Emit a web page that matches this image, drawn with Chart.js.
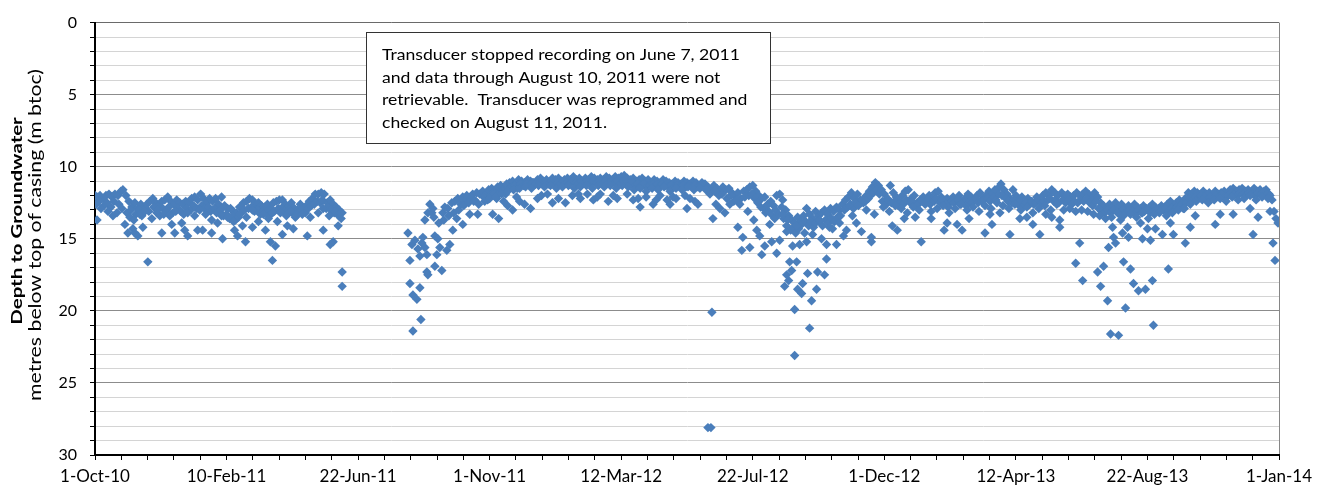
<!DOCTYPE html>
<html>
<head>
<meta charset="utf-8">
<script src="https://cdn.jsdelivr.net/npm/chart.js@4.4.0/dist/chart.umd.min.js"></script>
<style>
html,body{margin:0;padding:0;background:#fff}
#wrap{width:1328px;height:493px}
</style>
</head>
<body>
<div id="wrap"><canvas id="c"></canvas></div>
<script>
// x = days since 1-Oct-10, y = depth (m btoc)
const xTickLabels=['1-Oct-10','10-Feb-11','22-Jun-11','1-Nov-11','12-Mar-12','22-Jul-12','1-Dec-12','12-Apr-13','22-Aug-13','1-Jan-14'];
const yTitleBold='Depth to Groundwater';
const yTitleSub='metres below top of casing (m btoc)';
const noteLines=[
  'Transducer stopped recording on June 7, 2011',
  'and data through August 10, 2011 were not',
  'retrievable.  Transducer was reprogrammed and',
  'checked on August 11, 2011.'
];

// Oct 2010 - Jun 2011
const readingsA=[
[0,12.0],[2,12.1],[5,12.0],[8,12.2],[11,12.0],[14,11.9],[17,12.1],[20,11.9],[23,12.0],[26,11.7],[28,11.6],[31,12.0],[34,12.4],[37,12.8],[40,12.5],[43,12.9],[46,12.6],[49,12.8],[52,12.6],[55,12.4],[58,12.2],[61,12.5],[64,12.7],[67,12.4],[70,12.3],[73,12.1],[76,12.4],[79,12.6],[82,12.3],[85,12.5],[88,12.6],[91,12.4],[94,12.5],[97,12.2],[100,12.1],[103,12.3],[106,11.9],[109,12.2],[112,12.5],[115,12.2],[118,12.4],[121,12.2],[124,12.6],[127,12.1],[130,12.7],[133,12.9],[136,12.9],[139,13.1],[142,13.2],[145,12.8],[149,12.5],[152,12.4],[155,12.2],[158,12.3],[161,12.6],[164,12.5],[167,12.7],[170,12.8],[173,12.6],[176,12.9],[179,12.5],[182,12.4],[185,12.3],[188,12.3],[191,12.6],[194,12.8],[197,12.5],[200,12.9],[203,13.0],[206,12.6],[209,12.9],[212,12.7],[215,12.4],[218,12.2],[221,11.9],[224,11.9],[227,11.8],[230,11.9],[233,12.5],[236,12.3],[239,12.6],[242,12.8],[245,13.0],[248,13.2],
[1,12.6],[4,12.4],[9,12.7],[12,12.5],[16,12.8],[19,12.4],[24,12.6],[27,12.9],[32,13.2],[36,13.0],[41,13.3],[44,13.0],[47,13.4],[51,12.9],[54,13.1],[59,12.8],[62,13.2],[65,13.4],[68,12.9],[72,13.0],[74,12.8],[78,13.2],[83,12.9],[86,13.1],[89,13.3],[92,12.9],[96,13.0],[99,12.7],[102,12.9],[107,12.7],[110,12.9],[114,12.8],[116,13.1],[120,12.9],[122,13.2],[126,13.0],[129,13.4],[132,13.3],[135,13.6],[138,13.4],[141,13.7],[144,13.5],[147,13.2],[150,13.0],[154,12.9],[157,12.8],[160,13.1],[163,13.0],[166,13.3],[168,13.1],[172,13.2],[175,13.4],[177,13.0],[180,13.1],[184,12.9],[187,12.9],[190,13.1],[195,13.0],[198,13.2],[201,13.5],[205,13.1],[207,13.0],[211,13.2],[214,12.9],[217,12.7],[220,12.6],[223,12.4],[226,12.5],[228,12.3],[232,12.9],[234,12.8],[237,13.0],[240,13.2],[243,13.3],[247,13.6],
[2,13.7],[6,12.9],[13,13.1],[18,13.4],[22,13.2],[30,14.0],[35,13.5],[39,13.7],[45,13.3],[50,13.1],[57,13.6],[63,13.0],[69,13.3],[75,13.4],[81,13.1],[87,13.9],[93,13.2],[100,13.4],[105,13.0],[111,13.3],[117,13.7],[123,13.9],[127,13.4],[133,13.5],[139,13.8],[145,13.3],[152,13.5],[158,13.0],[164,13.8],[169,13.3],[174,13.6],[178,13.2],[183,13.8],[186,13.2],[192,13.4],[196,13.1],[202,13.4],[208,13.3],[216,13.5],[224,13.2],[229,12.9],[235,13.4],[241,13.1],[246,13.2],
[33,14.6],[38,14.3],[40,14.6],[43,14.8],[48,14.2],[53,16.6],[67,14.6],[77,14.0],[80,14.6],[90,14.4],[93,14.8],[103,14.4],[108,14.4],[117,14.6],[128,15.0],[140,14.4],[143,14.8],[148,14.1],[151,15.2],[158,14.2],[171,14.4],[176,15.2],[178,16.5],[181,15.5],[188,14.7],[193,14.1],[199,14.3],[213,14.8],[229,14.4],[236,15.4],[239,15.2],[244,14.1],[248,17.3],[248,18.3]
];

// Aug 2011 - Jun 2012
const readingsB=[
[314,14.6],[316,16.5],[318,15.4],[316,18.1],[319,18.9],[319,21.4],[323,19.2],[321,15.1],[324,15.7],[326,18.4],[327,20.6],[326,16.2],[328,15.3],[329,14.9],[331,15.6],[331,13.7],[333,16.1],[333,17.3],[334,17.5],[334,13.2],[336,12.6],[338,13.2],[339,12.9],[341,14.8],[341,16.9],[343,16.1],[344,15.0],[346,15.6],[348,17.2],[349,13.2],[351,12.8],[353,15.8],[354,12.9],[356,15.4],[358,12.5],[359,14.4],[361,12.4],[363,13.6],[364,12.2],[367,12.6],[369,14.0],[369,12.1],[371,12.4],[373,12.0],[376,13.3],[377,12.2],[379,11.9],[381,12.3],[383,11.8],[384,13.3],[386,11.9],
[340,13.5],[345,13.9],[350,13.7],[355,13.4],[360,13.2],[365,13.0],[370,12.7],[375,12.5],[380,12.4],[385,12.6],
[389,11.7],[392,11.9],[395,11.6],[398,11.5],[401,11.7],[404,11.4],[407,11.3],[410,11.5],[413,11.2],[416,11.1],[419,11.0],[422,11.2],[425,10.9],[428,11.0],[431,11.1],[434,10.9],[437,11.0],[440,11.1],[444,10.9],[447,10.8],[450,11.0],[453,10.9],[456,11.1],[459,10.8],[462,10.9],[465,10.8],[468,11.0],[471,10.9],[474,10.8],[477,10.9],[480,10.7],[483,10.9],[486,10.8],[489,11.0],[492,10.8],[495,10.9],[498,10.7],[501,10.8],[504,10.9],[507,10.8],[510,10.9],[513,10.7],[516,10.8],[519,10.9],[522,10.7],[525,10.8],[528,10.7],[531,10.6],[534,10.8],[537,10.9],[540,10.8],[543,11.0],[546,10.9],[549,10.8],[552,11.0],[555,10.9],[558,11.1],[561,10.9],[564,11.0],[567,11.1],[570,10.9],[573,11.0],[576,11.1],[579,11.2],[582,11.0],[585,11.1],[588,11.2],[591,11.0],[594,11.1],[597,11.2],[600,11.0],[603,11.1],[606,11.3],[609,11.1],
[390,12.1],[394,12.3],[397,12.0],[400,11.9],[403,12.2],[406,11.8],[409,11.7],[412,11.9],[415,11.5],[418,11.4],[421,11.3],[424,11.5],[427,11.2],[430,11.3],[433,11.2],[436,11.3],[439,11.1],[442,11.2],[446,11.1],[449,11.2],[452,11.1],[455,11.2],[458,11.0],[461,11.2],[464,11.1],[467,11.2],[470,11.0],[473,11.1],[476,11.2],[479,11.0],[482,11.1],[485,11.2],[488,11.0],[491,11.1],[494,11.0],[497,11.2],[500,11.0],[503,11.1],[506,11.0],[509,11.2],[512,11.0],[515,11.1],[518,11.0],[521,11.1],[524,11.0],[527,11.2],[530,11.0],[533,11.1],[536,11.2],[539,11.1],[542,11.3],[545,11.2],[548,11.3],[551,11.2],[554,11.4],[557,11.3],[560,11.2],[563,11.3],[566,11.4],[569,11.2],[572,11.3],[575,11.4],[578,11.3],[581,11.4],[584,11.3],[587,11.4],[590,11.3],[593,11.4],[596,11.3],[599,11.4],[602,11.3],[605,11.4],[608,11.3],
[391,12.4],[396,12.2],[402,12.1],[408,11.9],[414,11.7],[420,11.6],[426,11.5],[432,11.4],[438,11.5],[445,11.3],[451,11.4],[457,11.3],[463,11.5],[469,11.4],[475,11.3],[481,11.5],[487,11.4],[493,11.3],[499,11.5],[505,11.3],[511,11.4],[517,11.3],[523,11.5],[529,11.3],[535,11.4],[541,11.6],[547,11.5],[553,11.7],[559,11.5],[565,11.6],[571,11.4],[577,11.7],[583,11.5],[589,11.6],[595,11.4],[601,11.6],[607,11.5],
[399,13.3],[405,13.6],[414,12.7],[419,13.0],[426,12.4],[437,12.9],[444,12.2],[454,11.9],[459,12.5],[472,12.5],[479,12.0],[487,12.2],[494,11.9],[500,12.3],[507,11.9],[515,12.4],[524,12.2],[534,11.9],[540,12.3],[547,12.8],[553,12.1],[560,12.6],[567,12.0],[574,12.3],[577,12.6],[583,12.2],[594,12.9],[592,12.0],[602,12.4],
[410,12.4],[423,12.1],[431,12.6],[448,12.0],[465,12.2],[485,11.9],[504,12.1],[520,12.0],[545,12.2],[563,12.3],[580,12.1],[597,12.2],[605,12.6]
];

// Jun 2012 - Feb 2013
const readingsC=[
[612,11.2],[615,28.1],[618,28.1],[619,20.1],
[615,11.4],[618,11.6],[621,11.3],[624,11.5],[627,11.7],[630,11.4],[633,11.6],[636,11.5],[639,11.8],[642,12.0],[645,11.8],[648,12.2],[651,11.7],[654,11.6],[657,11.4],[660,11.3],[663,11.7],[666,12.0],[669,12.2],[672,12.1],[675,12.6],[678,12.4],[681,12.7],[684,12.0],[687,11.9],[690,12.3],[693,13.0],[696,13.4],[699,13.7],[702,13.9],[705,13.5],[708,13.8],[711,13.4],[714,12.9],[717,13.3],[720,13.6],[723,13.1],[726,13.4],[729,13.2],[732,13.0],[735,13.3],[738,12.9],[741,13.1],[744,12.8],[747,13.0],[750,12.6],[753,12.3],[756,12.1],[759,11.8],[762,12.2],[765,11.9],[768,12.3],[771,12.5],[774,12.0],[777,11.7],[780,11.4],[783,11.1],[786,11.3],
[613,11.6],[617,11.9],[622,11.7],[626,12.0],[629,11.9],[634,12.2],[638,12.0],[641,12.4],[644,12.3],[647,12.6],[652,12.1],[656,12.0],[659,11.9],[662,12.2],[665,12.5],[668,12.8],[671,12.9],[673,13.2],[676,13.1],[680,13.4],[683,13.0],[686,13.3],[689,12.8],[691,13.6],[694,14.1],[698,14.4],[701,14.2],[703,14.6],[706,14.3],[709,14.0],[713,13.8],[716,14.1],[718,13.8],[721,14.2],[723,13.9],[727,13.8],[730,14.1],[733,13.7],[736,13.9],[739,13.6],[742,13.8],[745,13.5],[748,13.4],[752,13.0],[755,12.8],[758,12.6],[761,12.9],[763,12.5],[766,12.7],[770,12.3],[773,12.4],[776,12.2],[778,12.0],[781,11.8],[784,11.6],[787,11.9],
[620,13.6],[623,12.6],[627,12.9],[632,13.2],[637,12.6],[645,14.2],[649,15.8],[650,14.9],[655,13.1],[657,15.6],[661,13.7],[664,14.4],[667,14.8],[669,16.1],[672,15.5],[674,12.7],[677,14.0],[679,15.2],[682,13.6],[684,16.0],[687,15.1],[690,13.3],[692,18.3],[694,14.5],[694,17.5],[695,13.7],[696,17.9],[697,16.6],[699,17.2],[700,15.5],[702,23.1],[702,19.9],[704,16.6],[704,14.1],[705,18.5],[707,15.4],[709,18.8],[710,18.1],[712,14.6],[714,15.2],[715,17.4],[717,21.2],[719,19.3],[720,14.7],[724,18.5],[725,17.3],[727,13.7],[729,15.0],[732,17.5],[734,16.4],[734,15.4],[737,14.2],[740,14.3],[744,15.4],[747,13.9],[751,14.8],[754,14.4],[757,12.7],[760,13.4],[764,13.9],[769,14.5],[774,13.0],[779,14.9],[782,13.3],
[789,11.6],[792,11.9],[795,12.2],[798,11.3],[801,11.8],[804,12.1],[807,12.4],[810,12.0],[813,11.7],[816,11.6],[819,12.2],[822,12.0],[825,12.5],[828,12.3],[831,12.1],[834,12.4],[837,12.0],[840,12.2],[843,11.8],[846,11.7],[849,12.1],[852,12.4],[855,12.2],[858,12.5],[861,12.1],[864,12.3],[867,12.0],[870,12.4],[873,12.2],[876,11.9],[879,12.1],[882,12.3],[885,12.0],[888,11.8],[891,12.2],[894,12.0],[897,11.7],[900,11.9],[903,11.6],[906,11.5],[909,11.2],[912,11.6],[915,11.9],[918,12.2],[921,11.6],[924,12.0],[927,12.3],[930,12.1],[933,12.5],[936,12.2],[939,12.4],[942,12.6],[945,12.1],[948,12.4],[951,12.0],[954,11.8],[957,12.0],[960,11.6],[963,11.8],[966,12.0],
[790,12.4],[794,12.6],[796,12.3],[799,12.5],[802,12.4],[806,12.7],[808,12.5],[811,12.6],[814,12.3],[818,12.5],[820,12.4],[824,12.7],[826,12.6],[830,12.4],[832,12.5],[836,12.3],[838,12.6],[842,12.4],[844,12.2],[848,12.5],[850,12.3],[854,12.6],[856,12.8],[860,12.4],[862,12.5],[866,12.3],[868,12.6],[872,12.5],[874,12.7],[878,12.4],[880,12.5],[884,12.2],[886,12.5],[890,12.4],[892,12.3],[896,12.2],[898,12.4],[902,12.1],[904,12.3],[907,11.9],[910,12.0],[914,12.2],[916,12.4],[920,12.5],[922,12.3],[926,12.6],[928,12.4],[932,12.7],[934,12.5],[938,12.6],[940,12.4],[944,12.5],[946,12.3],[950,12.5],[952,12.4],[956,12.3],[958,12.2],[962,12.4],[964,12.3],[967,12.5],
[791,12.8],[797,13.1],[803,12.7],[809,12.9],[815,13.2],[821,12.8],[827,13.0],[833,12.6],[839,13.1],[845,12.9],[851,12.7],[857,13.2],[863,12.9],[869,12.6],[875,13.0],[881,12.8],[887,13.1],[893,12.7],[899,12.9],[905,12.5],[911,12.7],[917,12.9],[923,12.6],[929,13.0],[935,12.8],[941,13.2],[947,12.9],[953,12.7],[959,13.0],[965,12.6],
[779,15.2],[800,14.1],[805,14.4],[812,13.6],[823,13.5],[829,15.2],[839,13.6],[852,14.4],[855,13.9],[865,14.0],[870,14.4],[877,13.6],[893,14.6],[898,13.3],[900,14.0],[908,13.2],[918,14.7],[928,13.6],[935,13.5],[941,14.0],[948,14.7],[954,13.3],[960,13.5],[968,13.7]
];

// Feb 2013 - Jan 2014
const readingsD=[
[970,11.8],[973,12.0],[976,11.9],[979,12.1],[982,12.0],[985,11.8],[988,12.0],[991,11.9],[994,11.7],[997,11.9],[1000,12.2],[1003,11.8],[1006,12.1],[1009,12.5],[1012,12.7],[1015,12.9],[1018,12.6],[1021,12.8],[1024,12.5],[1027,12.8],[1030,12.6],[1033,12.9],[1037,12.7],[1040,12.9],[1043,12.6],[1046,12.8],[1049,12.9],[1052,12.7],[1055,12.9],[1058,12.8],[1061,12.6],[1064,12.8],[1067,12.9],[1070,12.7],[1073,12.8],[1076,12.6],[1079,12.4],[1082,12.7],[1085,12.5],[1088,12.3],[1091,12.5],[1094,12.2],[1097,11.8],[1100,11.9],[1103,11.7],[1106,11.8],[1109,11.9],[1112,11.7],[1115,11.9],[1118,11.8],[1121,12.0],[1124,11.7],[1127,11.9],[1130,11.8],[1133,11.7],[1136,11.9],[1139,11.6],[1142,11.5],[1145,11.7],[1148,11.6],[1151,11.5],[1154,11.7],[1157,11.6],[1160,11.8],[1163,11.5],[1166,11.7],[1169,11.6],[1172,11.8],[1175,11.6],[1178,11.9],[1181,12.3],[1183,13.1],[1185,13.6],[1187,13.9],
[971,12.3],[974,12.5],[977,12.3],[980,12.6],[983,12.4],[986,12.5],[989,12.3],[992,12.4],[995,12.2],[998,12.5],[1001,12.7],[1004,12.4],[1007,12.9],[1010,13.1],[1013,13.2],[1016,13.0],[1019,13.2],[1022,13.0],[1025,13.1],[1028,13.3],[1031,13.0],[1034,13.2],[1038,13.0],[1041,13.1],[1044,13.3],[1047,13.0],[1050,13.2],[1053,13.1],[1056,13.0],[1059,13.2],[1062,13.1],[1065,13.0],[1068,13.2],[1072,13.0],[1074,12.9],[1077,13.1],[1080,12.9],[1083,13.0],[1086,12.8],[1089,12.7],[1092,12.9],[1095,12.5],[1098,12.2],[1101,12.3],[1104,12.1],[1107,12.2],[1110,12.0],[1113,12.1],[1116,12.3],[1119,12.1],[1122,12.2],[1125,12.0],[1128,12.1],[1131,11.9],[1134,12.1],[1137,12.0],[1140,11.8],[1143,11.9],[1146,12.0],[1149,11.8],[1152,11.9],[1155,12.0],[1158,11.8],[1161,11.9],[1164,12.0],[1167,11.8],[1170,11.9],[1173,11.7],[1176,11.9],[1179,12.0],
[972,13.0],[978,12.9],[984,13.1],[990,13.0],[996,13.1],[1002,13.3],[1008,13.4],[1014,13.6],[1020,13.5],[1026,13.2],[1032,13.4],[1039,13.3],[1045,13.5],[1051,13.2],[1057,13.6],[1063,13.3],[1069,13.1],[1075,13.4],[1081,13.2],[1087,13.0],[1093,12.9],[1099,12.6],[1105,12.4],[1111,12.3],[1117,12.5],[1123,12.3],[1129,12.2],[1135,12.4],[1141,12.1],[1147,12.3],[1153,12.2],[1159,12.0],[1165,12.3],[1171,12.1],[1177,12.2],
[968,14.2],[984,16.7],[988,15.3],[991,17.9],[1006,17.3],[1009,18.3],[1012,16.9],[1016,19.3],[1017,15.6],[1019,21.6],[1021,14.2],[1022,14.9],[1024,15.3],[1027,21.7],[1029,13.7],[1031,14.6],[1032,16.6],[1034,19.8],[1036,14.2],[1037,14.9],[1039,17.1],[1042,18.1],[1047,18.6],[1049,13.9],[1051,15.0],[1054,18.5],[1056,14.3],[1059,15.1],[1061,17.9],[1062,21.0],[1064,14.3],[1071,14.7],[1077,17.1],[1079,13.9],[1082,14.7],[1094,15.3],[1099,14.2],[1104,13.4],[1124,14.0],[1129,13.3],[1142,13.3],[1159,12.9],[1162,14.7],[1167,13.5],[1179,13.1],[1182,15.3],[1184,16.5]
];

const FONT='Lato';

const points=[...readingsA,...readingsB,...readingsC,...readingsD].map(p=>({x:p[0],y:p[1]}));

const yTitles={
  id:'yTitles',
  afterDraw(chart){
    const ctx=chart.ctx;
    ctx.save();
    ctx.textAlign='center';
    ctx.textBaseline='middle';
    ctx.fillStyle='#000';
    ctx.save();
    ctx.translate(17,221);
    ctx.rotate(-Math.PI/2);
    ctx.scale(1.28,1);
    ctx.font='bold 16px '+FONT;
    ctx.fillText(yTitleBold,0,0);
    ctx.restore();
    ctx.save();
    ctx.translate(36,235);
    ctx.rotate(-Math.PI/2);
    ctx.scale(1.25,1);
    ctx.font='17px '+FONT;
    ctx.fillText(yTitleSub,0,0);
    ctx.restore();
    ctx.restore();
  }
};

const noteBox={
  id:'noteBox',
  afterDatasetsDraw(chart){
    const ctx=chart.ctx;
    ctx.save();
    ctx.fillStyle='#fff';
    ctx.fillRect(366,32,404,111);
    ctx.strokeStyle='#333';
    ctx.lineWidth=1;
    ctx.strokeRect(366.5,32.5,404,111);
    ctx.fillStyle='#000';
    ctx.font='16px '+FONT;
    ctx.textBaseline='middle';
    noteLines.forEach((t,i)=>{
      ctx.save();
      ctx.translate(382,55+i*22.5);
      ctx.scale(1.1,1);
      ctx.fillText(t,0,0);
      ctx.restore();
    });
    ctx.restore();
  }
};

new Chart(document.getElementById('c'),{
  type:'scatter',
  data:{datasets:[{
    data:points,
    pointStyle:'rectRot',
    pointRadius:4.7,
    borderWidth:0,
    backgroundColor:'#4A7EBB',
    borderColor:'#4A7EBB'
  }]},
  options:{
    responsive:true,
    maintainAspectRatio:false,
    animation:false,
    layout:{padding:{left:0,right:49,top:12,bottom:0}},
    plugins:{legend:{display:false},tooltip:{enabled:false}},
    scales:{
      x:{
        type:'linear',min:0,max:1188,
        afterFit:s=>{s.height=38;},
        border:{color:'#000',width:2},
        grid:{
          drawOnChartArea:true,
          color:c=>c.index===45?'#868686':'rgba(0,0,0,0)',
          tickColor:'#000',tickLength:5,tickWidth:1
        },
        ticks:{
          stepSize:26.4,autoSkip:false,maxRotation:0,padding:6,
          color:'#000',font:{family:FONT,size:17},
          callback:(v,i)=>i%5===0?xTickLabels[i/5]:''
        }
      },
      y:{
        reverse:true,min:0,max:30,
        afterFit:s=>{s.width=95;},
        border:{color:'#000',width:2},
        grid:{
          color:c=>c.tick.value===0?'#6a6a6a':(c.tick.value%5===0?'#8c8c8c':'#d4d4d4'),
          tickColor:'#000',tickLength:5,lineWidth:1
        },
        ticks:{
          stepSize:1,autoSkip:false,padding:13,
          color:'#000',font:{family:FONT,size:16},
          callback:v=>v%5===0?v:''
        }
      }
    }
  },
  plugins:[yTitles,noteBox]
});
</script>
</body>
</html>
